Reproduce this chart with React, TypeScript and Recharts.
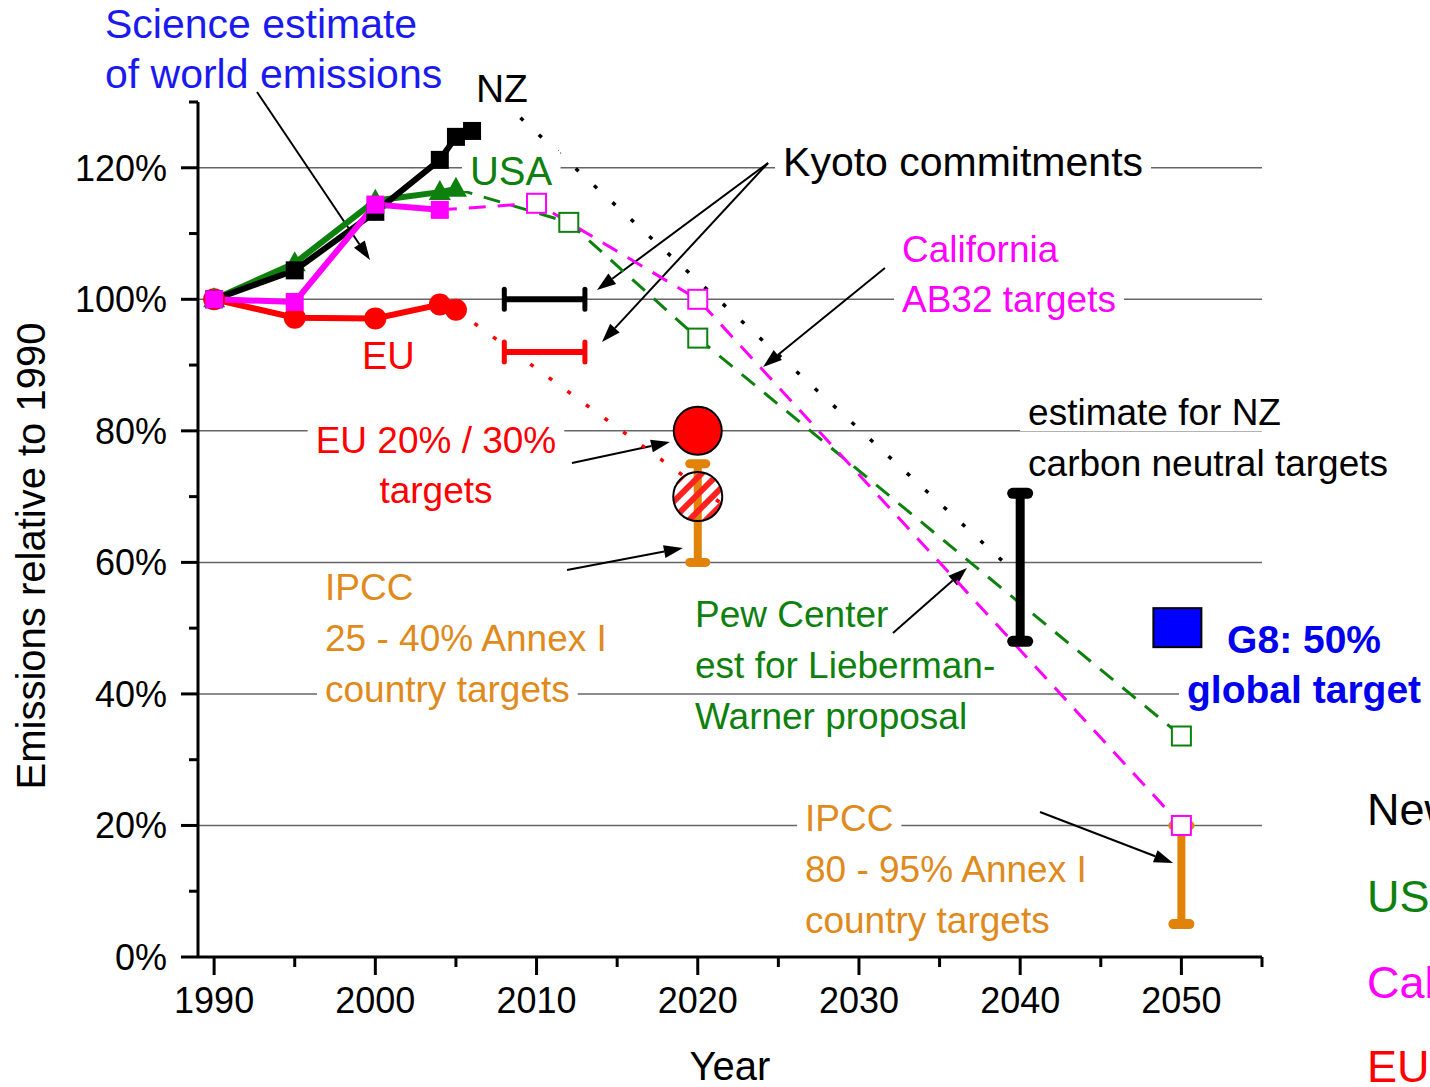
import React, { useLayoutEffect, useRef, useState } from 'react';
import { ComposedChart, Line, XAxis, YAxis, CartesianGrid, ReferenceDot, ReferenceLine } from 'recharts';

const FONT = '"Liberation Sans", Arial, Helvetica, sans-serif';

const BLACK = '#000000';
const GREEN = '#0e800e';
const MAGENTA = '#ff00ff';
const RED = '#ff0000';
const ORANGE = '#e08308';
const ORANGE_TEXT = '#e08a1c';
const SCI_BLUE = '#1a1af0';
const G8_BLUE = '#0000ee';
const BLUE_SQ = '#0000ff';

// axes
const xTicks = [1990, 1995, 2000, 2005, 2010, 2015, 2020, 2025, 2030, 2035, 2040, 2045, 2050, 2055];
const yTicks = [0, 10, 20, 30, 40, 50, 60, 70, 80, 90, 100, 110, 120, 130];
const gridValues = [20, 40, 60, 80, 100, 120];

// emissions relative to 1990, in %
const nzYears = [1990, 1995, 2000, 2004, 2005, 2006];
const nzValues = [100, 104.4, 113.3, 121.2, 124.7, 125.6];
const usaYears = [1990, 1995, 2000, 2004, 2005];
const usaValues = [100, 105.5, 115, 116.3, 116.8];
const calYears = [1990, 1995, 2000, 2004];
const calValues = [100, 99.6, 114.4, 113.6];
const euYears = [1990, 1995, 2000, 2004, 2005];
const euValues = [100, 97.2, 97.1, 99.2, 98.4];

// projections
const usaProjYears = [2005, 2012, 2020, 2050];
const usaProjValues = [116.8, 111.7, 94.1, 33.6];
const calProjYears = [2004, 2010, 2020, 2050];
const calProjValues = [113.6, 114.6, 100, 20];
const nzTrendYears = [2009, 2039];
const nzTrendValues = [127.6, 60];
const euTrendYears = [2005, 2022];
const euTrendValues = [98.4, 68];

// targets
const kyotoYears = [2008, 2013];
const kyotoNz = 100;
const kyotoEu = 92;
const euTargetYear = 2020;
const euTarget20 = 80;
const euTarget30 = 70;
const ipccNearYear = 2020;
const ipccNearRange = [60, 75];
const ipccLongYear = 2050;
const ipccLongRange = [5, 20];
const nzNeutralYear = 2040;
const nzNeutralRange = [48, 70.5];
const g8Year = 2050;
const g8Target = 50;

const zip = (xs: number[], ys: number[]) => xs.map((x, i) => ({ x, y: ys[i] }));

type Note = {
  x: number;
  y: number;
  lines: string[];
  size: number;
  color: string;
  lh?: number;
  anchor?: 'start' | 'middle' | 'end';
  bold?: boolean;
  bg?: boolean;
  rotate?: boolean;
};

const notes: Note[] = [
  { x: 1983.23, y: 139.73, lines: ['Science estimate', 'of world emissions'], size: 41, color: SCI_BLUE, lh: 50 },
  { x: 2006.24, y: 130.0, lines: ['NZ'], size: 39, color: BLACK },
  { x: 2005.87, y: 117.38, lines: ['USA'], size: 40, color: GREEN, bg: true },
  { x: 2025.29, y: 118.75, lines: ['Kyoto commitments'], size: 41, color: BLACK, bg: true },
  { x: 2032.67, y: 105.67, lines: ['California', 'AB32 targets'], size: 37, color: MAGENTA, lh: 50, bg: true },
  { x: 1999.17, y: 89.4, lines: ['EU'], size: 38, color: RED },
  { x: 2003.76, y: 76.63, lines: ['EU 20% / 30%', 'targets'], size: 37, color: RED, lh: 50, anchor: 'middle', bg: true },
  { x: 1996.88, y: 54.28, lines: ['IPCC', '25 - 40% Annex I', 'country targets'], size: 37, color: ORANGE_TEXT, lh: 51, bg: true },
  { x: 2019.83, y: 50.18, lines: ['Pew Center', 'est for Lieberman-', 'Warner proposal'], size: 37, color: GREEN, lh: 51 },
  { x: 2040.49, y: 80.89, lines: ['estimate for NZ', 'carbon neutral targets'], size: 37, color: BLACK, lh: 51, bg: true },
  { x: 2057.61, y: 46.22, lines: ['G8: 50%', 'global target'], size: 39, color: G8_BLUE, lh: 50, anchor: 'middle', bold: true, bg: true },
  { x: 2026.65, y: 19.16, lines: ['IPCC', '80 - 95% Annex I', 'country targets'], size: 37, color: ORANGE_TEXT, lh: 51, bg: true },
  { x: 2022.0, y: -18.7, lines: ['Year'], size: 40, color: BLACK, anchor: 'middle' },
  { x: 1979.51, y: 60.97, lines: ['Emissions relative to 1990'], size: 40, color: BLACK, anchor: 'middle', rotate: true },
  { x: 2061.51, y: 20.07, lines: ['New Zealand'], size: 45, color: BLACK },
  { x: 2061.51, y: 6.84, lines: ['USA'], size: 45, color: GREEN },
  { x: 2061.51, y: -6.23, lines: ['California'], size: 45, color: MAGENTA },
  { x: 2061.51, y: -19.0, lines: ['EU'], size: 45, color: RED },
];

// arrows: [from, to] in (year, %)
const arrows: [number, number, number, number][] = [
  [1992.66, 131.52, 1999.67, 105.98],
  [2024.36, 120.73, 2013.75, 101.41],
  [2024.36, 120.73, 2014.06, 93.51],
  [2031.61, 104.76, 2024.05, 89.71],
  [2012.2, 75.11, 2018.28, 78.3],
  [2011.89, 58.84, 2019.08, 62.19],
  [2032.11, 49.26, 2036.7, 59.15],
  [2041.23, 22.05, 2049.48, 14.29],
];

function NoteText({ cx, cy, note }: { cx: number; cy: number; note: Note }) {
  const refs = useRef<(SVGTextElement | null)[]>([]);
  const [boxes, setBoxes] = useState<{ x: number; y: number; w: number; h: number }[]>([]);
  useLayoutEffect(() => {
    if (!note.bg) return;
    setBoxes(
      refs.current.map((t) => {
        if (!t) return { x: 0, y: 0, w: 0, h: 0 };
        const b = t.getBBox();
        return { x: b.x, y: b.y, w: b.width, h: b.height };
      })
    );
  }, [cx, cy, note]);
  const lh = note.lh ?? note.size * 1.3;
  const tr = note.rotate ? `rotate(-90 ${cx} ${cy})` : undefined;
  return (
    <g transform={tr}>
      {boxes.map((b, i) => (
        <rect key={`b${i}`} x={b.x - 8} y={b.y + 2} width={b.w + 16} height={b.h - 4} fill="#ffffff" />
      ))}
      {note.lines.map((line, i) => (
        <text
          key={`t${i}`}
          ref={(el) => {
            refs.current[i] = el;
          }}
          x={cx}
          y={cy + i * lh}
          fill={note.color}
          fontSize={note.size}
          fontFamily={FONT}
          fontWeight={note.bold ? 'bold' : 'normal'}
          textAnchor={note.anchor ?? 'start'}
        >
          {line}
        </text>
      ))}
    </g>
  );
}

const arrowShape = (p: any) => {
  const { x1, y1, x2, y2 } = p;
  const a = Math.atan2(y2 - y1, x2 - x1);
  const L = 19;
  const W = 6.5;
  const bx = x2 - L * Math.cos(a);
  const by = y2 - L * Math.sin(a);
  const pts = `${x2},${y2} ${bx - W * Math.sin(a)},${by + W * Math.cos(a)} ${bx + W * Math.sin(a)},${by - W * Math.cos(a)}`;
  return (
    <g>
      <line x1={x1} y1={y1} x2={bx} y2={by} stroke={BLACK} strokeWidth={2} />
      <polygon points={pts} fill={BLACK} />
    </g>
  );
};

const kyotoShape = (color: string) => (p: any) => (
  <g>
    <line x1={p.x1} y1={p.y1} x2={p.x2} y2={p.y2} stroke={color} strokeWidth={6} />
    <line x1={p.x1} x2={p.x1} y1={p.y1 - 10} y2={p.y1 + 10} stroke={color} strokeWidth={5} strokeLinecap="round" />
    <line x1={p.x2} x2={p.x2} y1={p.y2 - 10} y2={p.y2 + 10} stroke={color} strokeWidth={5} strokeLinecap="round" />
  </g>
);

const rangeShape = (color: string, w: number, capW: number, capH: number) => (p: any) => {
  const top = Math.min(p.y1, p.y2);
  const bot = Math.max(p.y1, p.y2);
  return (
    <g>
      <line x1={p.x1} x2={p.x1} y1={top} y2={bot} stroke={color} strokeWidth={w} />
      <rect x={p.x1 - capW / 2} y={top - capH / 2} width={capW} height={capH} rx={capH / 2} fill={color} />
      <rect x={p.x1 - capW / 2} y={bot - capH / 2} width={capW} height={capH} rx={capH / 2} fill={color} />
    </g>
  );
};

const filledSquare = (color: string, s: number) => (p: any) => (
  <rect key={`fs${p.index}`} x={p.cx - s / 2} y={p.cy - s / 2} width={s} height={s} fill={color} />
);
const openSquare = (color: string, s: number) => (p: any) =>
  p.index === 0 ? (
    <g key={`os${p.index}`} />
  ) : (
    <rect key={`os${p.index}`} x={p.cx - s / 2} y={p.cy - s / 2} width={s} height={s} fill="#ffffff" stroke={color} strokeWidth={2} />
  );
const triangle = (color: string) => (p: any) => (
  <polygon key={`tr${p.index}`} points={`${p.cx},${p.cy - 12} ${p.cx - 11},${p.cy + 8} ${p.cx + 11},${p.cy + 8}`} fill={color} />
);
const disc = (color: string, r: number) => (p: any) => <circle key={`c${p.index}`} cx={p.cx} cy={p.cy} r={r} fill={color} />;

const XTick = (p: any) => {
  const v = p.payload.value;
  const major = (v - 1990) % 10 === 0;
  const axisY = p.y - 30;
  return (
    <g>
      <line x1={p.x} x2={p.x} y1={axisY} y2={axisY + (major ? 18 : 10)} stroke={BLACK} strokeWidth={3} />
      {major && (
        <text x={p.x} y={p.y + 26} textAnchor="middle" fontSize={36} fontFamily={FONT} fill={BLACK}>
          {v}
        </text>
      )}
    </g>
  );
};

const YTick = (p: any) => {
  const v = p.payload.value;
  const major = v % 20 === 0;
  const axisX = p.x + 31;
  return (
    <g>
      <line x1={axisX - (major ? 17 : 9)} x2={axisX} y1={p.y} y2={p.y} stroke={BLACK} strokeWidth={3} />
      {major && (
        <text x={p.x} y={p.y + 13} textAnchor="end" fontSize={36} fontFamily={FONT} fill={BLACK}>
          {`${v}%`}
        </text>
      )}
    </g>
  );
};

export default function App() {
  return (
    <div style={{ width: 1430, height: 1087, background: '#fff' }}>
      <style>{'body{margin:0;background:#fff}'}</style>
      <ComposedChart width={1430} height={1087} margin={{ top: 102, right: 168, bottom: 100, left: 138 }}>
        <defs>
          <pattern id="hatch" patternUnits="userSpaceOnUse" width="12" height="12" patternTransform="rotate(45)">
            <rect x="0" y="0" width="6" height="12" fill="#ff2020" />
          </pattern>
        </defs>
        <CartesianGrid horizontal vertical={false} horizontalValues={gridValues} stroke="#666666" strokeWidth={1.5} />
        <XAxis
          type="number"
          dataKey="x"
          domain={[1989, 2055]}
          allowDataOverflow
          ticks={xTicks}
          interval={0}
          tickSize={18}
          tickMargin={12}
          tickLine={false}
          tick={(p: any) => <XTick {...p} />}
          axisLine={{ stroke: BLACK, strokeWidth: 3 }}
        />
        <YAxis
          type="number"
          domain={[0, 130]}
          allowDataOverflow
          ticks={yTicks}
          interval={0}
          width={60}
          tickSize={16}
          tickMargin={15}
          tickLine={false}
          tick={(p: any) => <YTick {...p} />}
          axisLine={{ stroke: BLACK, strokeWidth: 3 }}
        />

        {notes.map((n, i) => (
          <ReferenceDot
            key={`note${i}`}
            x={n.x}
            y={n.y}
            r={1}
            ifOverflow="visible"
            shape={(p: any) => <NoteText cx={p.cx} cy={p.cy} note={n} />}
          />
        ))}

        {arrows.map((a, i) => (
          <ReferenceLine
            key={`arr${i}`}
            segment={[
              { x: a[0], y: a[1] },
              { x: a[2], y: a[3] },
            ]}
            ifOverflow="visible"
            shape={arrowShape}
          />
        ))}

        <Line data={zip(nzTrendYears, nzTrendValues)} dataKey="y" stroke={BLACK} strokeWidth={3.5} strokeDasharray="4 21" dot={false} activeDot={false} isAnimationActive={false} />
        <Line data={zip(euTrendYears, euTrendValues)} dataKey="y" stroke={RED} strokeWidth={3.5} strokeDasharray="4 19" dot={false} activeDot={false} isAnimationActive={false} />

        <Line data={zip(euYears, euValues)} dataKey="y" stroke={RED} strokeWidth={6} dot={disc(RED, 11)} activeDot={false} isAnimationActive={false} />
        <Line data={zip(usaYears, usaValues)} dataKey="y" stroke={GREEN} strokeWidth={6} dot={triangle(GREEN)} activeDot={false} isAnimationActive={false} />
        <Line data={zip(nzYears, nzValues)} dataKey="y" stroke={BLACK} strokeWidth={6} dot={filledSquare(BLACK, 18)} activeDot={false} isAnimationActive={false} />
        <Line data={zip(calYears, calValues)} dataKey="y" stroke={MAGENTA} strokeWidth={6} dot={filledSquare(MAGENTA, 18)} activeDot={false} isAnimationActive={false} />

        <Line data={zip(usaProjYears, usaProjValues)} dataKey="y" stroke={GREEN} strokeWidth={3} strokeDasharray="17 12" dot={openSquare(GREEN, 19)} activeDot={false} isAnimationActive={false} />
        <Line data={zip(calProjYears, calProjValues)} dataKey="y" stroke={MAGENTA} strokeWidth={3} strokeDasharray="17 12" dot={openSquare(MAGENTA, 19)} activeDot={false} isAnimationActive={false} />

        <ReferenceLine segment={[{ x: kyotoYears[0], y: kyotoNz }, { x: kyotoYears[1], y: kyotoNz }]} ifOverflow="visible" shape={kyotoShape(BLACK)} />
        <ReferenceLine segment={[{ x: kyotoYears[0], y: kyotoEu }, { x: kyotoYears[1], y: kyotoEu }]} ifOverflow="visible" shape={kyotoShape(RED)} />

        <ReferenceLine segment={[{ x: ipccNearYear, y: ipccNearRange[0] }, { x: ipccNearYear, y: ipccNearRange[1] }]} ifOverflow="visible" shape={rangeShape(ORANGE, 8, 25, 9)} />
        <ReferenceLine segment={[{ x: ipccLongYear, y: ipccLongRange[0] }, { x: ipccLongYear, y: ipccLongRange[1] }]} ifOverflow="visible" shape={rangeShape(ORANGE, 8, 26, 10)} />
        <ReferenceLine segment={[{ x: nzNeutralYear, y: nzNeutralRange[0] }, { x: nzNeutralYear, y: nzNeutralRange[1] }]} ifOverflow="visible" shape={rangeShape(BLACK, 9, 26, 11)} />

        <ReferenceDot x={euTargetYear} y={euTarget20} ifOverflow="visible" shape={(p: any) => <circle cx={p.cx} cy={p.cy} r={24} fill={RED} stroke={BLACK} strokeWidth={2} />} />
        <ReferenceDot x={euTargetYear} y={euTarget30} ifOverflow="visible" shape={(p: any) => <circle cx={p.cx} cy={p.cy} r={24.5} fill="url(#hatch)" stroke={BLACK} strokeWidth={2} />} />
        <ReferenceDot x={g8Year} y={g8Target} ifOverflow="visible" shape={(p: any) => <rect x={p.cx - 28} y={p.cy - 20} width={48} height={39} fill={BLUE_SQ} stroke={BLACK} strokeWidth={2} />} />
      </ComposedChart>
    </div>
  );
}
